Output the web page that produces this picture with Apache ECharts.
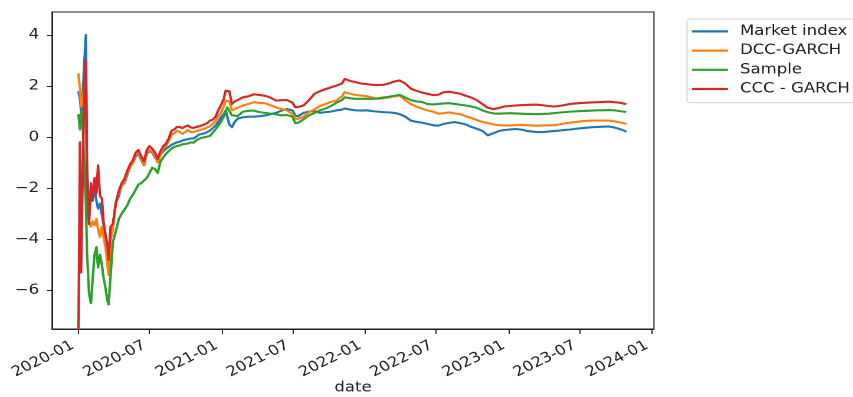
<!DOCTYPE html>
<html>
<head>
<meta charset="utf-8">
<script src="https://cdn.jsdelivr.net/npm/echarts@6.0.0/dist/echarts.min.js"></script>
<style>
  html, body { margin: 0; padding: 0; background: #ffffff; overflow: hidden; }
  /* the figure is laid out on a narrower canvas and widened horizontally */
  #chart { width: 723px; height: 397px; transform: scaleX(1.18); transform-origin: 0 0; }
</style>
</head>
<body>
<div id="chart"></div>
<script>
// Observation dates (trading days sampled through the period)
const dates = [
  '2020-01-02','2020-01-06','2020-01-09','2020-01-13','2020-01-16','2020-01-21','2020-01-24','2020-01-29','2020-02-03','2020-02-07',
  '2020-02-12','2020-02-17','2020-02-21','2020-02-26','2020-03-02','2020-03-06','2020-03-11','2020-03-16','2020-03-19','2020-03-24',
  '2020-03-30','2020-04-06','2020-04-14','2020-04-21','2020-04-28','2020-05-06','2020-05-13','2020-05-20','2020-05-27','2020-06-03',
  '2020-06-10','2020-06-17','2020-06-24','2020-07-01','2020-07-08','2020-07-15','2020-07-22','2020-07-29','2020-08-05','2020-08-12',
  '2020-08-19','2020-08-26','2020-09-02','2020-09-09','2020-09-16','2020-09-23','2020-09-30','2020-10-07','2020-10-14','2020-10-21',
  '2020-10-28','2020-11-04','2020-11-11','2020-11-18','2020-11-25','2020-12-02','2020-12-09','2020-12-16','2020-12-23','2020-12-30',
  '2021-01-06','2021-01-11','2021-01-15','2021-01-20','2021-01-27','2021-02-03','2021-02-10','2021-02-24','2021-03-10','2021-03-24',
  '2021-04-07','2021-04-21','2021-05-05','2021-05-19','2021-06-02','2021-06-16','2021-06-30','2021-07-07','2021-07-14','2021-07-28',
  '2021-08-11','2021-08-25','2021-09-08','2021-09-22','2021-10-06','2021-10-20','2021-11-03','2021-11-10','2021-11-24','2021-12-08',
  '2021-12-22','2022-01-05','2022-01-19','2022-02-02','2022-02-16','2022-03-02','2022-03-16','2022-03-30','2022-04-13','2022-04-27',
  '2022-05-11','2022-05-25','2022-06-08','2022-06-22','2022-07-06','2022-07-20','2022-08-03','2022-08-17','2022-08-31','2022-09-14',
  '2022-09-28','2022-10-12','2022-10-26','2022-11-09','2022-11-23','2022-12-07','2022-12-21','2023-01-04','2023-01-18','2023-02-01',
  '2023-02-15','2023-03-01','2023-03-15','2023-03-29','2023-04-12','2023-04-26','2023-05-10','2023-05-24','2023-06-07','2023-06-21',
  '2023-07-05','2023-07-19','2023-08-02','2023-08-16','2023-08-30','2023-09-13','2023-09-27','2023-10-11','2023-10-25','2023-10-27'
];

const marketIndex = [
  1.8, 1.5, 1.0, 1.6, 2.6, 4.0, -1.0, -3.2, -2.0, -2.5,
  -2.0, -2.5, -2.8, -2.6, -2.6, -3.4, -3.9, -4.5, -5.0, -3.6,
  -3.4, -2.6, -2.3, -1.9, -1.8, -1.45, -1.15, -1.0, -0.75, -0.65,
  -0.9, -1.1, -0.65, -0.55, -0.6, -0.8, -0.95, -0.7, -0.55, -0.46,
  -0.38, -0.3, -0.25, -0.2, -0.18, -0.13, -0.1, -0.08, -0.05, -0.05,
  0.02, 0.1, 0.13, 0.15, 0.2, 0.26, 0.35, 0.45, 0.6, 0.78,
  0.9, 1.04, 1.0, 0.5, 0.39, 0.6, 0.72, 0.78, 0.8, 0.8,
  0.82, 0.85, 0.9, 0.95, 1.04, 1.1, 1.05, 0.85, 0.82, 0.95,
  1.0, 1.02, 0.95, 0.98, 1.0, 1.05, 1.08, 1.12, 1.08, 1.05,
  1.04, 1.05, 1.02, 1.0, 0.98, 0.97, 0.95, 0.9, 0.8, 0.65,
  0.6, 0.57, 0.52, 0.47, 0.45, 0.52, 0.56, 0.59, 0.55, 0.5,
  0.4, 0.33, 0.25, 0.07, 0.15, 0.24, 0.28, 0.3, 0.32, 0.3,
  0.25, 0.22, 0.2, 0.2, 0.22, 0.24, 0.26, 0.28, 0.3, 0.33,
  0.35, 0.37, 0.39, 0.4, 0.41, 0.42, 0.38, 0.32, 0.24, 0.2
];

const dccGarch = [
  2.5, 1.9, 1.2, 1.4, 1.8, 1.2, -2.5, -3.3, -3.5, -3.3,
  -3.45, -3.2, -3.6, -3.9, -3.5, -3.9, -4.3, -5.0, -5.4, -4.0,
  -3.6, -2.6, -2.2, -1.9, -1.75, -1.4, -1.15, -1.0, -0.7, -0.6,
  -0.85, -1.1, -0.6, -0.5, -0.55, -0.75, -1.0, -0.7, -0.45, -0.35,
  -0.15, 0.1, 0.15, 0.25, 0.2, 0.13, 0.2, 0.28, 0.2, 0.2,
  0.24, 0.26, 0.3, 0.33, 0.38, 0.42, 0.52, 0.62, 0.82, 0.95,
  1.2, 1.43, 1.48, 1.4, 1.05, 1.1, 1.15, 1.24, 1.3, 1.37,
  1.34, 1.33, 1.25, 1.17, 1.1, 1.05, 0.9, 0.72, 0.72, 0.8,
  0.98, 1.08, 1.22, 1.3, 1.38, 1.43, 1.6, 1.76, 1.7, 1.65,
  1.63, 1.6, 1.55, 1.5, 1.52, 1.56, 1.6, 1.63, 1.45, 1.3,
  1.2, 1.12, 1.05, 1.0, 0.92, 0.94, 0.97, 0.93, 0.9, 0.82,
  0.75, 0.67, 0.6, 0.55, 0.5, 0.47, 0.46, 0.46, 0.47, 0.48,
  0.47, 0.46, 0.45, 0.46, 0.46, 0.47, 0.5, 0.54, 0.57, 0.59,
  0.62, 0.64, 0.65, 0.65, 0.65, 0.65, 0.62, 0.58, 0.53, 0.5
];

const sample = [
  0.9, 0.3, 1.0, 0.5, -0.8, -2.5, -4.5, -6.1, -6.5, -6.5,
  -4.6, -4.3, -5.1, -4.6, -5.0, -5.5, -5.9, -6.4, -6.55, -5.4,
  -4.1, -3.7, -3.2, -3.0, -2.85, -2.65, -2.4, -2.25, -2.05, -1.85,
  -1.8, -1.7, -1.6, -1.4, -1.2, -1.25, -1.4, -0.95, -0.8, -0.65,
  -0.55, -0.45, -0.38, -0.35, -0.32, -0.28, -0.26, -0.25, -0.2, -0.22,
  -0.12, -0.06, -0.03, 0.0, 0.02, 0.05, 0.18, 0.3, 0.45, 0.6,
  0.8, 1.0, 1.17, 1.1, 0.85, 0.85, 0.82, 1.0, 1.03, 1.04,
  0.98, 0.95, 0.92, 0.9, 0.85, 0.87, 0.8, 0.55, 0.56, 0.7,
  0.85, 0.95, 1.05, 1.12, 1.22, 1.35, 1.45, 1.56, 1.52, 1.5,
  1.5, 1.5, 1.5, 1.52, 1.55, 1.58, 1.62, 1.66, 1.55, 1.45,
  1.4, 1.38, 1.3, 1.28, 1.3, 1.32, 1.33, 1.3, 1.27, 1.24,
  1.2, 1.15, 1.05, 0.98, 0.93, 0.92, 0.93, 0.94, 0.93, 0.92,
  0.91, 0.91, 0.9, 0.91, 0.92, 0.94, 0.96, 0.98, 1.0, 1.01,
  1.02, 1.03, 1.04, 1.05, 1.05, 1.06, 1.05, 1.02, 0.99, 0.98
];

const cccGarch = [
  -8.2, -0.2, -5.3, -1.5, 1.0, 3.0, -1.5, -3.4, -1.8, -2.4,
  -1.6, -2.2, -1.1, -2.3, -2.4, -3.3, -3.8, -4.2, -4.8, -3.5,
  -3.4, -2.6, -2.1, -1.8, -1.65, -1.3, -1.05, -0.9, -0.6, -0.5,
  -0.75, -0.95, -0.5, -0.35, -0.45, -0.6, -0.85, -0.55, -0.35, -0.25,
  -0.05, 0.25, 0.3, 0.4, 0.4, 0.35, 0.42, 0.46, 0.38, 0.36,
  0.4, 0.42, 0.46, 0.5, 0.55, 0.65, 0.68, 0.8, 1.05, 1.25,
  1.5, 1.82, 1.75, 1.8, 1.3, 1.4, 1.45, 1.56, 1.6, 1.68,
  1.65, 1.62, 1.55, 1.43, 1.45, 1.45, 1.35, 1.17, 1.18, 1.24,
  1.45, 1.7, 1.8, 1.88, 1.95, 2.02, 2.1, 2.28, 2.2, 2.15,
  2.1, 2.08, 2.05, 2.04, 2.05, 2.1, 2.18, 2.22, 2.1, 1.9,
  1.82, 1.75, 1.7, 1.65, 1.66, 1.76, 1.78, 1.74, 1.7, 1.62,
  1.55, 1.45, 1.3, 1.15, 1.1, 1.14, 1.2, 1.22, 1.24, 1.25,
  1.26, 1.27, 1.27, 1.25, 1.22, 1.2, 1.22, 1.26, 1.3, 1.32,
  1.34, 1.35, 1.36, 1.37, 1.38, 1.39, 1.37, 1.35, 1.3, 1.28
];

const seriesNames = ['Market index', 'DCC-GARCH', 'Sample', 'CCC - GARCH'];
const seriesColors = ['#1f77b4', '#ff7f0e', '#2ca02c', '#d62728'];
const yTicks = [-6, -4, -2, 0, 2, 4];
const xTickLabels = ['2020-01', '2020-07', '2021-01', '2021-07', '2022-01', '2022-07', '2023-01', '2023-07', '2024-01'];

const FONT = 'DejaVu Sans';
const FONT_SIZE = 14;
const INK = '#222222';

// Dates become millisecond timestamps on a linear value axis
const toTime = (s) => {
  const p = s.split('-').map(Number);
  return new Date(p[0], p[1] - 1, p[2] || 1).getTime();
};
const xTicks = xTickLabels.map(toTime);
const pad2 = (n) => (n < 10 ? '0' : '') + n;

const valueSets = [marketIndex, dccGarch, sample, cccGarch];
const series = valueSets.map((vals, i) => ({
  name: seriesNames[i],
  type: 'line',
  showSymbol: false,
  symbol: 'none',
  clip: true,
  color: seriesColors[i],
  lineStyle: { width: 2.1, color: seriesColors[i], join: 'round' },
  data: dates.map((d, k) => [toTime(d), vals[k]]),
  z: 2 + i
}));

const chart = echarts.init(document.getElementById('chart'), null, { renderer: 'canvas', devicePixelRatio: 2 });
chart.setOption({
  animation: false,
  backgroundColor: '#ffffff',
  textStyle: { fontFamily: FONT },
  grid: {
    left: 44.1, right: 168.8, top: 12, bottom: 68,
    show: true, borderColor: INK, borderWidth: 1,
    containLabel: false, outerBoundsMode: 'none'
  },
  legend: {
    orient: 'vertical',
    left: 582.2, top: 19,
    icon: 'rect',
    itemWidth: 30.5, itemHeight: 2.2,
    itemGap: 0,
    padding: [2.8, 14, 4.1, 4.2],
    backgroundColor: 'rgba(255,255,255,0.85)',
    borderColor: '#d4d4d4', borderWidth: 1, borderRadius: 3,
    textStyle: { fontFamily: FONT, fontSize: FONT_SIZE, color: INK, lineHeight: 19.2, padding: [0, 0, 0, 5.2] },
    data: seriesNames
  },
  xAxis: {
    type: 'value',
    min: toTime('2019-10-27'),
    max: toTime('2024-01-06'),
    name: 'date',
    nameLocation: 'middle',
    nameGap: 52,
    nameMoveOverlap: false,
    nameTextStyle: { fontFamily: FONT, fontSize: FONT_SIZE, color: INK },
    axisLine: { show: true, onZero: false, lineStyle: { color: INK, width: 1 } },
    axisTick: { show: true, length: 4.9, lineStyle: { color: INK }, customValues: xTicks },
    axisLabel: {
      customValues: xTicks,
      rotate: 30,
      margin: 13,
      padding: [0, 4.8, 0, 0],
      fontFamily: FONT, fontSize: FONT_SIZE, color: INK,
      formatter: (v) => {
        const d = new Date(v);
        return d.getFullYear() + '-' + pad2(d.getMonth() + 1);
      }
    },
    splitLine: { show: false }
  },
  yAxis: {
    type: 'value',
    min: -7.51,
    max: 4.9,
    axisLine: { show: true, lineStyle: { color: INK, width: 1 } },
    axisTick: { show: true, length: 4.2, lineStyle: { color: INK }, customValues: yTicks },
    axisLabel: {
      customValues: yTicks,
      margin: 11,
      fontFamily: FONT, fontSize: FONT_SIZE, color: INK,
      formatter: (v) => String(v).replace('-', '\u2212')
    },
    splitLine: { show: false }
  },
  series: series
});
</script>
</body>
</html>
